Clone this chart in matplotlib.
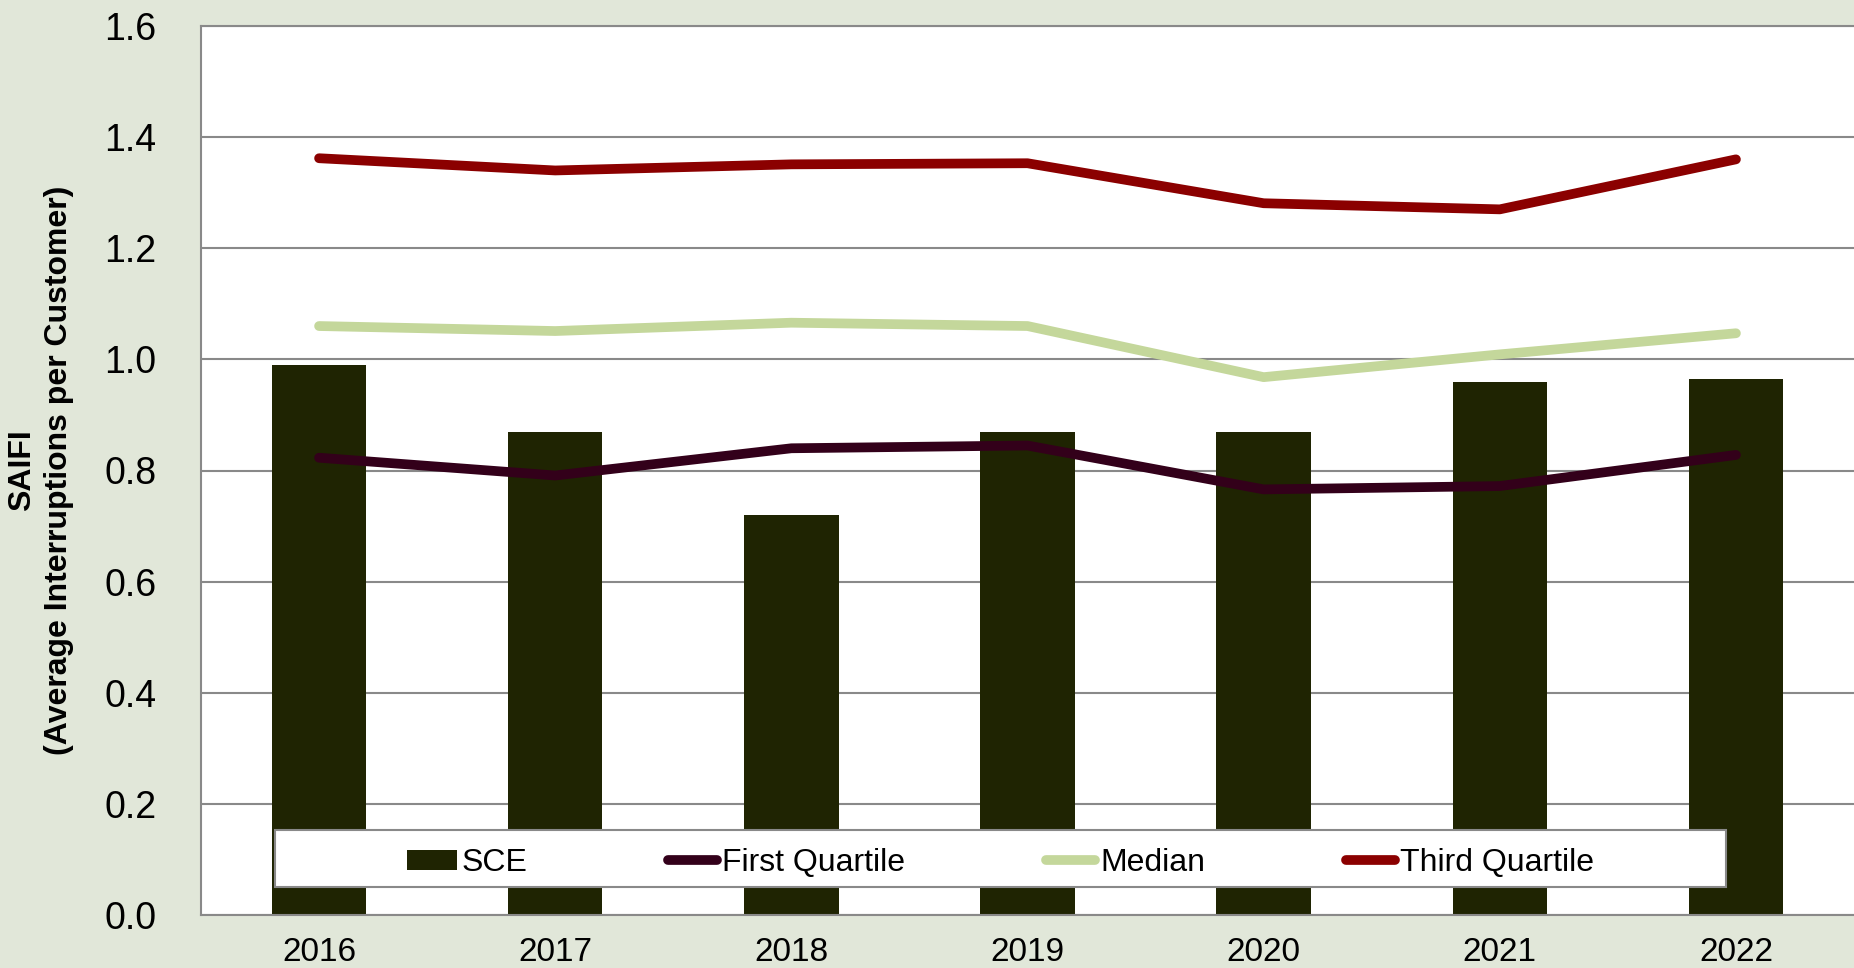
import numpy as np
import matplotlib
matplotlib.use('Agg')
import matplotlib.pyplot as plt
from matplotlib.patches import Rectangle

plt.rcParams['font.family'] = ['Liberation Sans', 'DejaVu Sans']

# data
years = ['2016', '2017', '2018', '2019', '2020', '2021', '2022']
sce = [0.99, 0.87, 0.72, 0.87, 0.87, 0.96, 0.965]
first_quartile = [0.823, 0.791, 0.840, 0.845, 0.766, 0.772, 0.828]
median = [1.060, 1.051, 1.066, 1.060, 0.968, 1.009, 1.047]
third_quartile = [1.362, 1.340, 1.351, 1.353, 1.281, 1.270, 1.360]
y_ticks = [0.0, 0.2, 0.4, 0.6, 0.8, 1.0, 1.2, 1.4, 1.6]

# colours
bg = '#E1E7D9'
grid_col = '#898989'
bar_col = '#1F2402'
q1_col = '#33001A'
med_col = '#C4D79B'
q3_col = '#8B0000'

fig = plt.figure(figsize=(18.54, 9.68), dpi=100, facecolor=bg)
ax = fig.add_axes([201 / 1854, 1 - 915 / 968, 1 - 201 / 1854, (915 - 26) / 968])
ax.set_facecolor('white')

x = np.arange(len(years))
bars = ax.bar(x, sce, width=0.4, color=bar_col, label='SCE', zorder=2)
lw = 7
l1, = ax.plot(x, first_quartile, color=q1_col, lw=lw, solid_capstyle='round', label='First Quartile', zorder=3)
l2, = ax.plot(x, median, color=med_col, lw=lw, solid_capstyle='round', label='Median', zorder=3)
l3, = ax.plot(x, third_quartile, color=q3_col, lw=lw, solid_capstyle='round', label='Third Quartile', zorder=3)

ax.set_xlim(-0.5, len(years) - 0.5)
ax.set_ylim(0, 1.6)
ax.set_yticks(y_ticks)
ax.set_yticklabels(['{:.1f}'.format(t) for t in y_ticks], fontsize=27)
ax.set_xticks(x)
ax.set_xticklabels(years, fontsize=24)
ax.tick_params(axis='y', length=0, pad=32)
ax.tick_params(axis='x', length=0, pad=16)

ax.yaxis.grid(True, color=grid_col, lw=1.5, zorder=0)
ax.set_axisbelow(True)
for side in ['left', 'top', 'bottom']:
    ax.spines[side].set_color(grid_col)
    ax.spines[side].set_linewidth(1.5)
ax.spines['right'].set_visible(False)

ax.set_ylabel('SAIFI\n(Average Interruptions per Customer)', fontsize=23, fontweight='bold',
              labelpad=22, linespacing=1.3)

# legend box
x0, x1 = (275 - 201) / 1654, (1727 - 201) / 1654
y0, y1 = (915 - 887) / 889, (915 - 830) / 889
ax.add_patch(Rectangle((x0, y0), x1 - x0, y1 - y0, transform=ax.transAxes,
                       facecolor='white', edgecolor=grid_col, lw=1.5, zorder=4))
ax.legend([bars, l1, l2, l3], ['SCE', 'First Quartile', 'Median', 'Third Quartile'],
          loc='center', bbox_to_anchor=((x0 + x1) / 2, (y0 + y1) / 2 - 0.005), ncol=4,
          frameon=False, fontsize=23, handlelength=1.55, handletextpad=0.15,
          columnspacing=4.4, handleheight=0.6)

fig.savefig('out.png', dpi=100, facecolor=bg)
